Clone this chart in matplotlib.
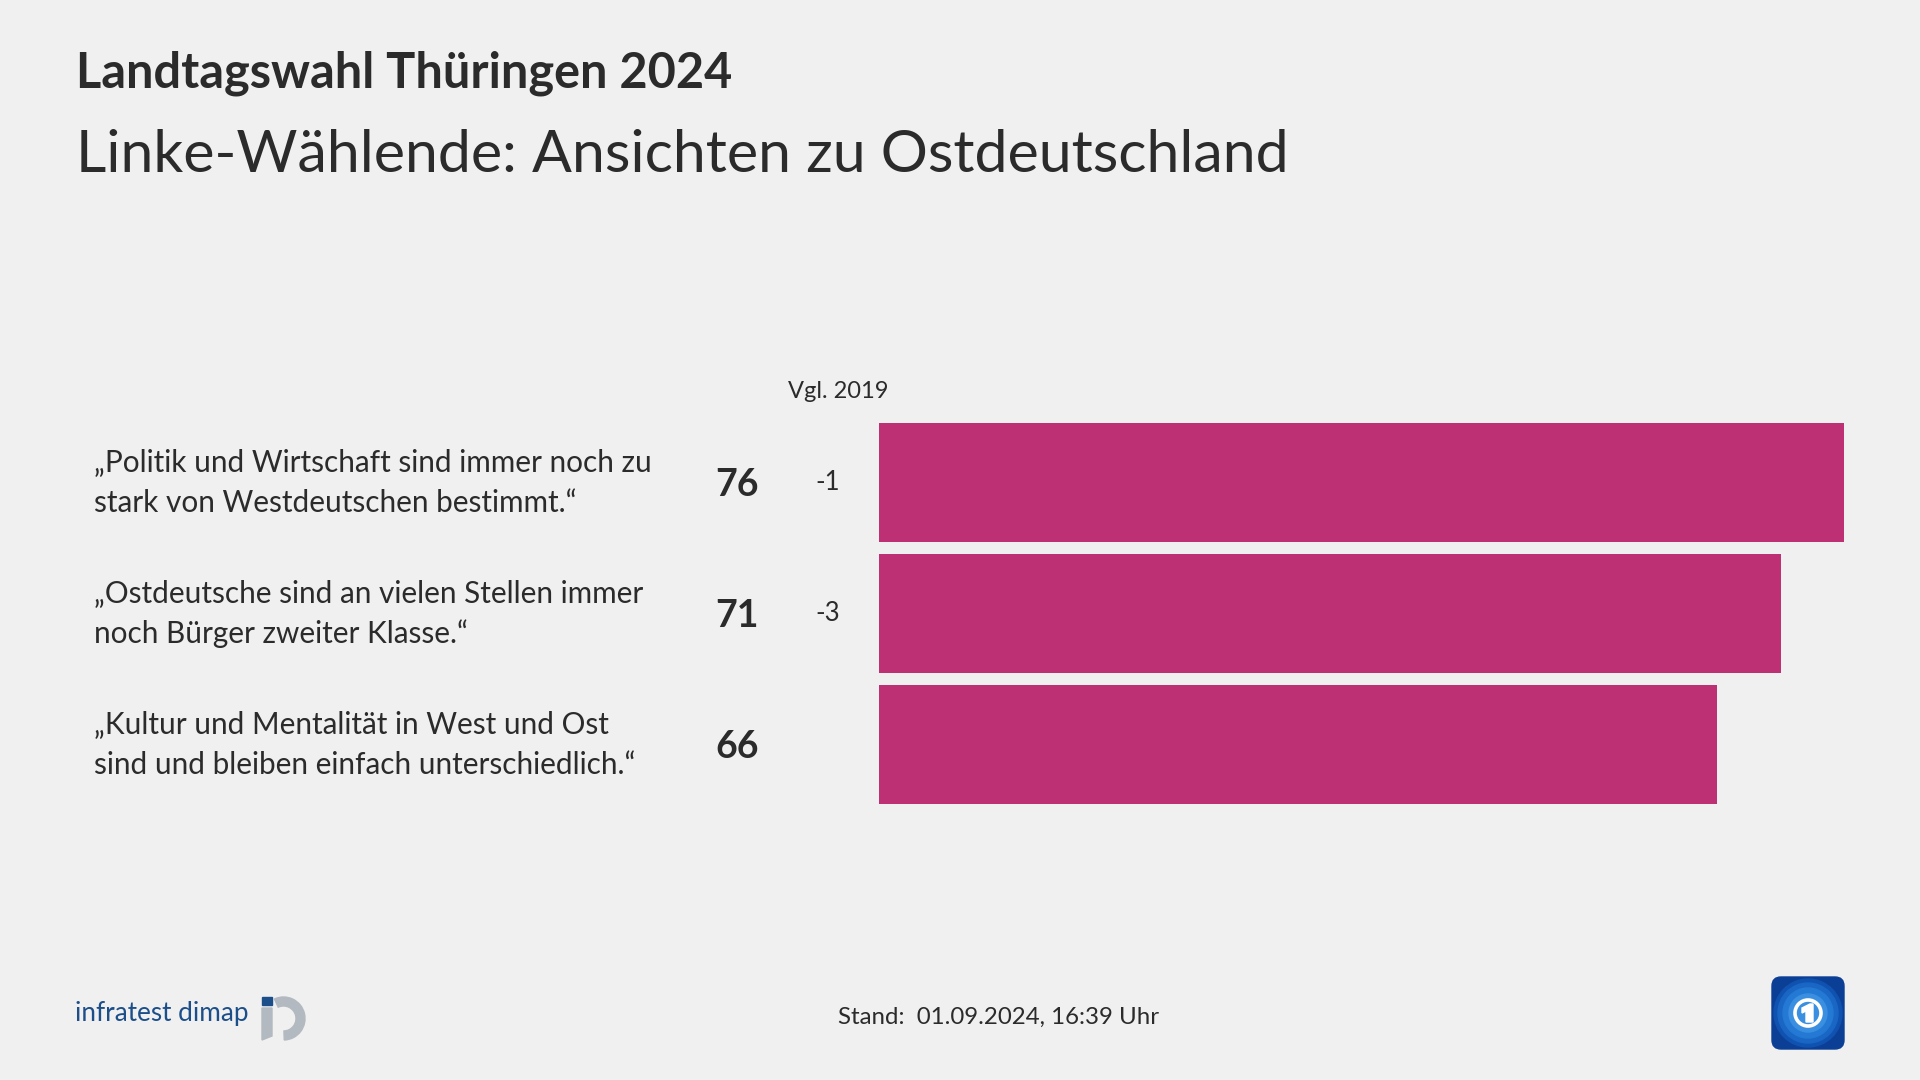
import matplotlib.pyplot as plt
import matplotlib.transforms as mtransforms
from matplotlib.patches import FancyBboxPatch, Circle, Wedge, Rectangle, Polygon

# data
statements = [
    "„Politik und Wirtschaft sind immer noch zu\nstark von Westdeutschen bestimmt.“",
    "„Ostdeutsche sind an vielen Stellen immer\nnoch Bürger zweiter Klasse.“",
    "„Kultur und Mentalität in West und Ost\nsind und bleiben einfach unterschiedlich.“",
]
values = [76, 71, 66]
changes = ["-1", "-3", ""]

BG = "#f0f0f0"
BAR = "#bd3174"
TXT = "#2b2b2b"
FONT = ["Lato", "DejaVu Sans"]
plt.rcParams["font.family"] = FONT

W, H = 1920, 1080
fig = plt.figure(figsize=(19.2, 10.8), dpi=100, facecolor=BG)

# bar axes: zero at x=879px, 12.7px per point; rows 131px apart
x0, ppu, row = 879, 12.7, 131
xmax = 80
top = 417
ax = fig.add_axes([x0 / W, 1 - (top + 3 * row) / H, xmax * ppu / W, 3 * row / H])
ax.set_facecolor(BG)
ax.barh(range(len(values)), values, height=119 / row, color=BAR)
ax.set_xlim(0, xmax)
ax.set_ylim(len(values) - 0.5, -0.5)
ax.axis("off")

tr = mtransforms.blended_transform_factory(fig.transFigure, ax.transData)
for i, (s, v, c) in enumerate(zip(statements, values, changes)):
    ax.text(94 / W, i, s, transform=tr, ha="left", va="center", fontsize=21.4,
            color=TXT, linespacing=1.55, clip_on=False)
    ax.text(737 / W, i + 0.02, str(v), transform=tr, ha="center", va="center",
            fontsize=27, fontweight="bold", color=TXT, clip_on=False)
    if c:
        ax.text(828 / W, i, c, transform=tr, ha="center", va="center",
                fontsize=18.5, color=TXT, clip_on=False)

fig.text(838 / W, 1 - 391 / H, "Vgl. 2019", ha="center", va="center",
         fontsize=17, color=TXT)

# titles
fig.text(76 / W, 1 - 73 / H, "Landtagswahl Thüringen 2024", ha="left",
         va="center", fontsize=35, fontweight="bold", color=TXT)
fig.text(76 / W, 1 - 155 / H, "Linke-Wählende: Ansichten zu Ostdeutschland",
         ha="left", va="center", fontsize=42.5, color=TXT)

# footer
fig.text(838 / W, 1 - 1017 / H, "Stand:  01.09.2024, 16:39 Uhr", ha="left",
         va="center", fontsize=17.3, color=TXT)
fig.text(75 / W, 1 - 1014 / H, "infratest dimap", ha="left", va="center",
         fontsize=18.8, color="#1c4f8a")

# overlay in pixel coordinates for the two logos
lax = fig.add_axes([0, 0, 1, 1])
lax.set_xlim(0, W)
lax.set_ylim(H, 0)
lax.axis("off")
lax.patch.set_alpha(0)

grey = "#b3b9c0"
lax.add_patch(Rectangle((262, 997), 10, 8, color="#1c4f8a"))
lax.add_patch(Polygon([(262, 1008), (272, 1008), (272, 1036), (262, 1040)],
                      color=grey))
lax.add_patch(Wedge((283.5, 1018.5), 21.5, -115, 88, width=9, color=grey))

# ARD mark
lax.add_patch(FancyBboxPatch((1772, 977), 72, 72,
                             boxstyle="round,pad=0,rounding_size=9",
                             color="#0b3f96"))
for r, col in [(34, "#1052b0"), (30, "#1a66c4"), (25, "#2479d4"),
               (19, "#3b8fe0")]:
    lax.add_patch(Circle((1808, 1013), r, color=col))
lax.add_patch(Circle((1808, 1013), 13, fill=False, ec="white", lw=2.6))
lax.add_patch(Polygon([(1802, 1008), (1810, 1004), (1813, 1004), (1813, 1022),
                       (1806, 1022), (1806, 1011), (1802, 1013)],
                      color="white"))

fig.savefig("out.png", dpi=100, facecolor=BG)
